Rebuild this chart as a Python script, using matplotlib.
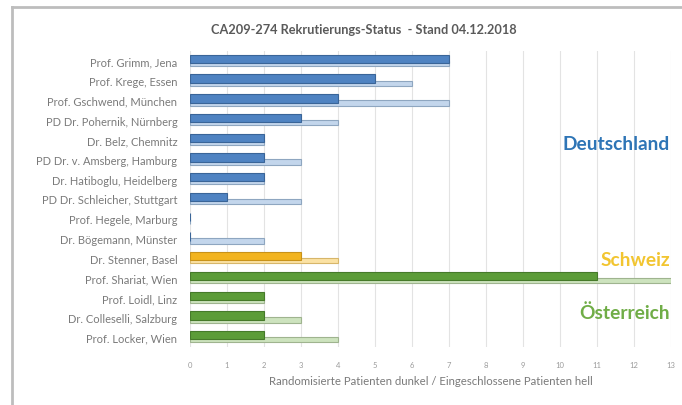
import matplotlib
matplotlib.use("Agg")
import matplotlib.pyplot as plt
from matplotlib.lines import Line2D

plt.rcParams['font.family'] = ['Lato', 'DejaVu Sans']

sites = ["Prof. Grimm, Jena", "Prof. Krege, Essen", "Prof. Gschwend, München",
         "PD Dr. Pohernik, Nürnberg", "Dr. Belz, Chemnitz", "PD Dr. v. Amsberg, Hamburg",
         "Dr. Hatiboglu, Heidelberg", "PD Dr. Schleicher, Stuttgart", "Prof. Hegele, Marburg",
         "Dr. Bögemann, Münster", "Dr. Stenner, Basel", "Prof. Shariat, Wien",
         "Prof. Loidl, Linz", "Dr. Colleselli, Salzburg", "Prof. Locker, Wien"]
randomized = [7, 5, 4, 3, 2, 2, 2, 1, 0, 0, 3, 11, 2, 2, 2]
included = [7, 6, 7, 4, 2, 3, 2, 3, 0, 2, 4, 13, 2, 3, 4]
country = ["DE"] * 10 + ["CH"] + ["AT"] * 4
xticks = list(range(0, 14))

dark = {"DE": "#4F83C2", "CH": "#F2B420", "AT": "#5C9C38"}
light = {"DE": "#C3D6EC", "CH": "#FBE2A4", "AT": "#CDE3BE"}
darkedge = {"DE": "#3A6598", "CH": "#C8921A", "AT": "#467A2A"}
lightedge = {"DE": "#8EA6C0", "CH": "#D7B66A", "AT": "#9FB48F"}

W, H = 682, 406
fig = plt.figure(figsize=(W / 100, H / 100), dpi=100)
fig.patch.set_facecolor("white")

# border
fig.add_artist(Line2D([12 / W, 12 / W], [0, 1 - 8 / H], transform=fig.transFigure,
                      color="#BDBDBD", lw=2))
fig.add_artist(Line2D([12 / W, 1], [1 - 8 / H, 1 - 8 / H], transform=fig.transFigure,
                      color="#BDBDBD", lw=2))

x0, x1 = 190, 671
y_top, y_bot = 52, 348
ax = fig.add_axes([x0 / W, 1 - y_bot / H, (x1 - x0) / W, (y_bot - y_top) / H])

n = len(sites)
for i in range(n):
    c = country[i]
    ax.barh(i + 0.13, included[i], height=0.27, color=light[c],
            edgecolor=lightedge[c], linewidth=0.8, zorder=2)
    ax.barh(i - 0.1, randomized[i], height=0.42, color=dark[c],
            edgecolor=darkedge[c], linewidth=0.8, zorder=3)

ax.set_ylim(n - 0.5, -0.5)
ax.set_xlim(0, 13)
ax.set_xticks(xticks)
ax.set_xticklabels([str(t) for t in xticks], fontsize=5.5, color="#9A9A9A")
ax.set_yticks(range(n))
ax.set_yticklabels(sites, fontsize=8, color="#7A7A7A")
ax.tick_params(axis="x", length=0, pad=10)
ax.tick_params(axis="y", length=0, pad=9)
ax.grid(axis="x", color="#E3E3E3", lw=0.8, zorder=0)
for s in ax.spines.values():
    s.set_visible(False)
ax.set_xlabel("Randomisierte Patienten dunkel / Eingeschlossene Patienten hell",
              fontsize=8.2, color="#7A7A7A", labelpad=5)

fig.text(364 / W, 1 - 30 / H, "CA209-274 Rekrutierungs-Status  - Stand 04.12.2018",
         ha="center", va="center", fontsize=9.2, color="#5A5A5A", fontweight="bold")

fig.text(670 / W, 1 - 145 / H, "Deutschland", ha="right", va="center",
         fontsize=13.8, fontweight="bold", color="#2E75B6")
fig.text(670 / W, 1 - 260 / H, "Schweiz", ha="right", va="center",
         fontsize=13.8, fontweight="bold", color="#F2C530")
fig.text(670 / W, 1 - 313 / H, "Österreich", ha="right", va="center",
         fontsize=13.8, fontweight="bold", color="#70AD47")

fig.savefig("out.png", dpi=100)
